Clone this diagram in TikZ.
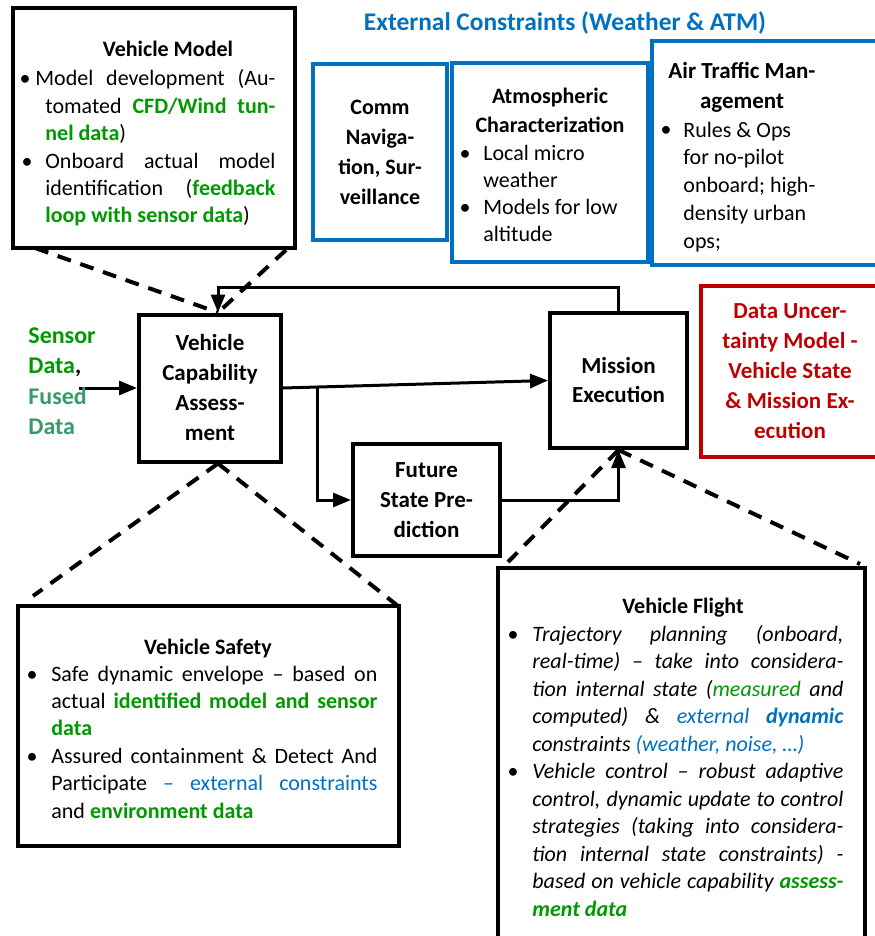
\documentclass[tikz,border=0pt]{standalone}
\usepackage{fontspec}
\setmainfont{Carlito}
\usetikzlibrary{arrows.meta}
\definecolor{gr}{RGB}{0,153,0}
\definecolor{fgr}{RGB}{56,154,106}
\definecolor{bl}{RGB}{0,112,192}
\definecolor{rd}{RGB}{192,0,0}
\newcommand\Gb[1]{\textcolor{gr}{\textbf{#1}}}
\newcommand\Gn[1]{\textcolor{gr}{#1}}
\newcommand\Bl[1]{\textcolor{bl}{#1}}
\newcommand\Jl[2]{\makebox[#1][s]{#2}}
\begin{document}
\begin{tikzpicture}[x=0.5pt,y=-0.5pt,
  box/.style={draw, line width=2pt, inner sep=0pt},
  bbox/.style={box, draw=bl},
  ttl/.style={inner sep=0pt, anchor=base, align=center, font=\fontsize{11}{14}\selectfont\bfseries},
  blk/.style={inner sep=0pt, anchor=base west, align=left, font=\fontsize{11}{13.7}\selectfont},
  bul/.style={inner sep=0pt, anchor=base, font=\fontsize{11}{13.7}\selectfont},
  arr/.style={line width=1.5pt, -{Triangle[length=9pt,width=7pt]}},
  dsh/.style={line width=2pt, dash pattern=on 7pt off 5pt},
]
\useasboundingbox (0,0) rectangle (874,936);

% ---------- boxes ----------
\node[box, minimum width=141pt, minimum height=120pt] (VM) at (154,128) {};
\node[bbox, minimum width=67pt, minimum height=88pt, align=center,
      font=\fontsize{11}{15}\selectfont\bfseries] (CNS) at (380,152.5)
      {Comm\\Naviga-\\tion, Sur-\\veillance};
\node[bbox, minimum width=98pt, minimum height=99.5pt] (ATC) at (550,162.5) {};
\node[bbox, minimum width=119pt, minimum height=112pt] (ATM) at (771,153) {};
\node[box, minimum width=71pt, minimum height=73.5pt, align=center,
      font=\fontsize{11.5}{15}\selectfont\bfseries] (VCA) at (210,388)
      {Vehicle\\Capability\\Assess-\\ment};
\node[box, minimum width=68.5pt, minimum height=67.5pt, align=center,
      font=\fontsize{11.5}{14.5}\selectfont\bfseries] (ME) at (618.5,380.5)
      {Mission\\Execution};
\node[box, minimum width=73.5pt, minimum height=56pt, align=center,
      font=\fontsize{11.5}{15}\selectfont\bfseries] (FSP) at (426.5,500)
      {Future\\State Pre-\\diction};
\node[box, draw=rd, text=rd, minimum width=89pt, minimum height=85.5pt, align=center,
      font=\fontsize{11.5}{15}\selectfont\bfseries] (DU) at (790,371)
      {Data Uncer-\\tainty Model -\\Vehicle State\\\& Mission Ex-\\ecution};
\node[box, minimum width=190.5pt, minimum height=120pt] (VS) at (208.5,726) {};
\node[box, minimum width=183.5pt, minimum height=191pt] (VF) at (681.5,759) {};

% ---------- title ----------
\node[inner sep=0pt, text=bl, font=\fontsize{12.7}{15}\selectfont\bfseries] (EC) at (565,23)
  {External Constraints (Weather \& ATM)};

% ---------- connectors ----------
\coordinate (sin) at (79,388);
\coordinate (br) at (317,387);
\coordinate (fb) at (218,287);
\coordinate (vmL) at (35,248);
\coordinate (vmR) at (286,250);
\coordinate (vsL) at (33,596);
\coordinate (vsR) at (398,606);
\coordinate (vfL) at (508,562);
\coordinate (vfR) at (860,564);

\draw[dsh] (vmL) -- (fb |- VCA.north);
\draw[dsh] (vmR) -- (fb |- VCA.north);
\draw[dsh] (fb |- VCA.south) -- (vsL);
\draw[dsh] (fb |- VCA.south) -- (vsR);
\draw[dsh] (ME.south) -- (vfL);
\draw[dsh] (ME.south) -- (vfR);

\draw[arr] (sin) -- (VCA.west);
\draw[arr] (VCA.east) -- (ME.west);
\draw[arr] (br) |- (FSP.west);
\draw[arr] (FSP.east) -| (ME.south);
\draw[arr] (ME.north) |- (fb) -- (fb |- VCA.north);

\begin{scope}[yshift=-1.5pt]
% ---------- sensor input ----------
\node[blk, font=\fontsize{12}{15.3}\selectfont\bfseries] (SD) at (28,431.8)
  {\textcolor{gr}{Sensor}\\\textcolor{gr}{Data},\\\textcolor{fgr}{Fused}\\\textcolor{fgr}{Data}};

% ---------- Vehicle Model text ----------
\node[ttl] (VMt) at (168,54) {Vehicle Model};
\node[bul] (VMb1) at (25,83) {•};
\node[blk] (VMx1) at (45,137.8)
  {\hspace*{-5pt}\Jl{120pt}{Model development (Au-}\\
   \Jl{115pt}{tomated \Gb{CFD/Wind tun-}}\\
   \Gb{nel data})};
\node[bul] (VMb2) at (27,165.2) {•};
\node[blk] (VMx2) at (45,220)
  {\Jl{115pt}{Onboard actual model}\\
   \Jl{115pt}{identification (\Gb{feedback}}\\
   \Gb{loop with sensor data})};

% ---------- Atmospheric ----------
\node[ttl, font=\fontsize{11}{14.5}\selectfont\bfseries] (ATCt) at (550,130) {Atmospheric\\Characterization};
\node[bul] (ATCb1) at (465,158) {•};
\node[blk, font=\fontsize{11}{13.5}\selectfont] (ATCx1) at (483,185) {Local micro\\weather};
\node[bul] (ATCb2) at (465,212) {•};
\node[blk, font=\fontsize{11}{13.5}\selectfont] (ATCx2) at (483,239) {Models for low\\altitude};

% ---------- ATM ----------
\node[ttl, font=\fontsize{11.5}{15}\selectfont\bfseries] (ATMt) at (742,106) {Air Traffic Man-\\agement};
\node[bul] (ATMb1) at (666,134) {•};
\node[blk, font=\fontsize{11}{13.9}\selectfont] (ATMx1) at (683,245.2)
  {Rules \& Ops\\for no-pilot\\onboard; high-\\density urban\\ops;};

% ---------- Vehicle Safety ----------
\node[ttl] (VSt) at (208,651) {Vehicle Safety};
\node[bul] (VSb1) at (32,678) {•};
\node[blk] (VSx1) at (51,732.8)
  {\Jl{163pt}{Safe dynamic envelope – based on}\\
   \Jl{163pt}{actual \Gb{identified model and sensor}}\\
   \Gb{data}};
\node[bul] (VSb2) at (32,760.4) {•};
\node[blk] (VSx2) at (51,815.2)
  {\Jl{163pt}{Assured containment \& Detect And}\\
   \Jl{163pt}{Participate \Bl{– external constraints}}\\
   and \Gb{environment data}};

% ---------- Vehicle Flight ----------
\node[ttl] (VFt) at (683,610) {Vehicle Flight};
\node[bul] (VFb1) at (513,638) {•};
\node[blk, font=\fontsize{11}{13.75}\selectfont\itshape] (VFx1) at (532,748)
  {\Jl{155.5pt}{Trajectory planning (onboard,}\\
   \Jl{155.5pt}{real-time) – take into considera-}\\
   \Jl{155.5pt}{tion internal state (\Gn{measured} and}\\
   \Jl{155.5pt}{computed) \& \Bl{external} \Bl{\textbf{dynamic}}}\\
   constraints \Bl{(weather, noise, …)}};
\node[bul] (VFb2) at (513,775.5) {•};
\node[blk, font=\fontsize{11}{13.75}\selectfont\itshape] (VFx2) at (532,913)
  {\Jl{155.5pt}{Vehicle control – robust adaptive}\\
   \Jl{155.5pt}{control, dynamic update to control}\\
   \Jl{155.5pt}{strategies (taking into considera-}\\
   \Jl{155.5pt}{tion internal state constraints) -}\\
   \Jl{155.5pt}{based on vehicle capability \Gb{assess-}}\\
   \Gb{ment data}};
\end{scope}
\end{tikzpicture}
\end{document}
